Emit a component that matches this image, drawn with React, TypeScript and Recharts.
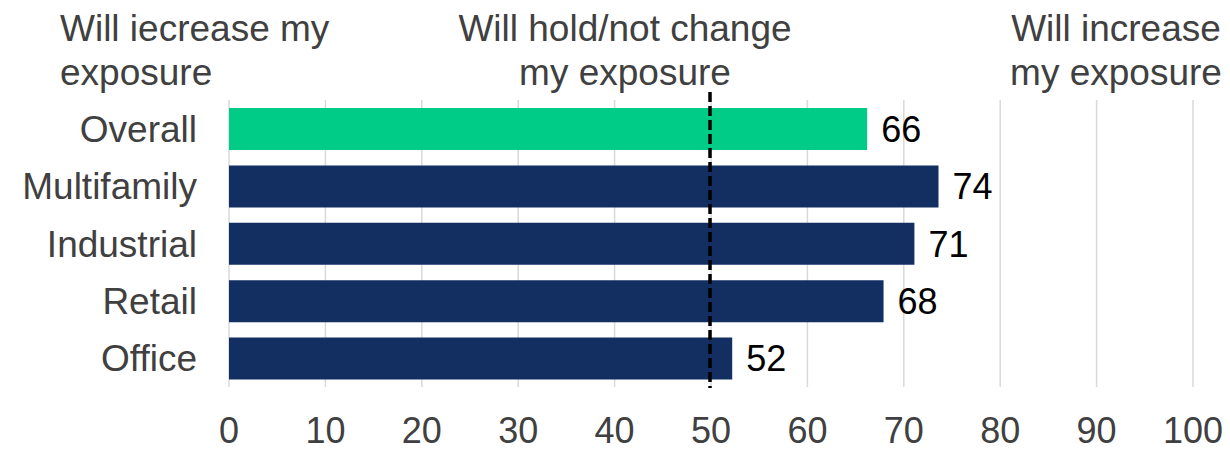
import { BarChart, Bar, XAxis, YAxis, CartesianGrid, ReferenceLine, LabelList, Cell } from 'recharts'

const categories = ['Overall', 'Multifamily', 'Industrial', 'Retail', 'Office']
const scores = [66.2, 73.6, 71.1, 67.9, 52.2]
const xTicks = [0, 10, 20, 30, 40, 50, 60, 70, 80, 90, 100]
const leftHeader = ['Will iecrease my', 'exposure']
const middleHeader = ['Will hold/not change', 'my exposure']
const rightHeader = ['Will increase', 'my exposure']

const GREEN = '#00CC88'
const NAVY = '#132F62'
const FONT = '"Liberation Sans", Arial, sans-serif'

const data = categories.map((name, i) => ({ name, value: scores[i] }))

function DashedMarker(props: any) {
  const top = Math.min(props.y1, props.y2)
  const bottom = Math.max(props.y1, props.y2)
  return (
    <line
      x1={props.x1 - 1}
      x2={props.x2 - 1}
      y1={top - 8}
      y2={bottom + 1}
      stroke="#000"
      strokeWidth={3.5}
      strokeDasharray="10 4"
    />
  )
}

function Header({ lines, x, anchor }: { lines: string[]; x: number; anchor: 'left' | 'center' }) {
  const base: React.CSSProperties = {
    position: 'absolute',
    top: 7,
    fontFamily: FONT,
    fontSize: 37,
    lineHeight: '44px',
    color: '#404040',
    whiteSpace: 'nowrap',
  }
  const style: React.CSSProperties =
    anchor === 'left'
      ? { ...base, left: x, textAlign: 'left' }
      : { ...base, left: x, transform: 'translateX(-50%)', textAlign: 'center' }
  return (
    <div style={style}>
      {lines.map((l) => (
        <div key={l}>{l}</div>
      ))}
    </div>
  )
}

export default function App() {
  return (
    <div style={{ position: 'absolute', left: 0, top: 0, width: 1230, height: 451, background: '#fff' }}>
      <BarChart
        width={1230}
        height={451}
        data={data}
        layout="vertical"
        margin={{ top: 100, right: 37, bottom: 0, left: 0 }}
        barSize={42}
      >
        <CartesianGrid horizontal={false} stroke="#D9D9D9" strokeWidth={1.5} />
        <XAxis
          type="number"
          domain={[0, 100]}
          ticks={xTicks}
          interval={0}
          axisLine={false}
          tickLine={false}
          tickSize={0}
          tickMargin={30}
          height={64}
          tick={{ fontSize: 36, fill: '#404040', fontFamily: FONT }}
        />
        <YAxis
          type="category"
          dataKey="name"
          width={229}
          axisLine={false}
          tickLine={false}
          tickSize={0}
          tickMargin={32}
          tick={{ fontSize: 37, fill: '#404040', fontFamily: FONT }}
        />
        <Bar dataKey="value" isAnimationActive={false}>
          {data.map((d, i) => (
            <Cell key={d.name} fill={i === 0 ? GREEN : NAVY} />
          ))}
          <LabelList
            dataKey="value"
            position="right"
            offset={14}
            formatter={(v: any) => Math.round(Number(v))}
            style={{ fontSize: 36, fill: '#000', fontFamily: FONT }}
          />
        </Bar>
        <ReferenceLine x={50} ifOverflow="visible" shape={DashedMarker} />
      </BarChart>
      <Header lines={leftHeader} x={60} anchor="left" />
      <Header lines={middleHeader} x={625} anchor="center" />
      <Header lines={rightHeader} x={1116} anchor="center" />
    </div>
  )
}
